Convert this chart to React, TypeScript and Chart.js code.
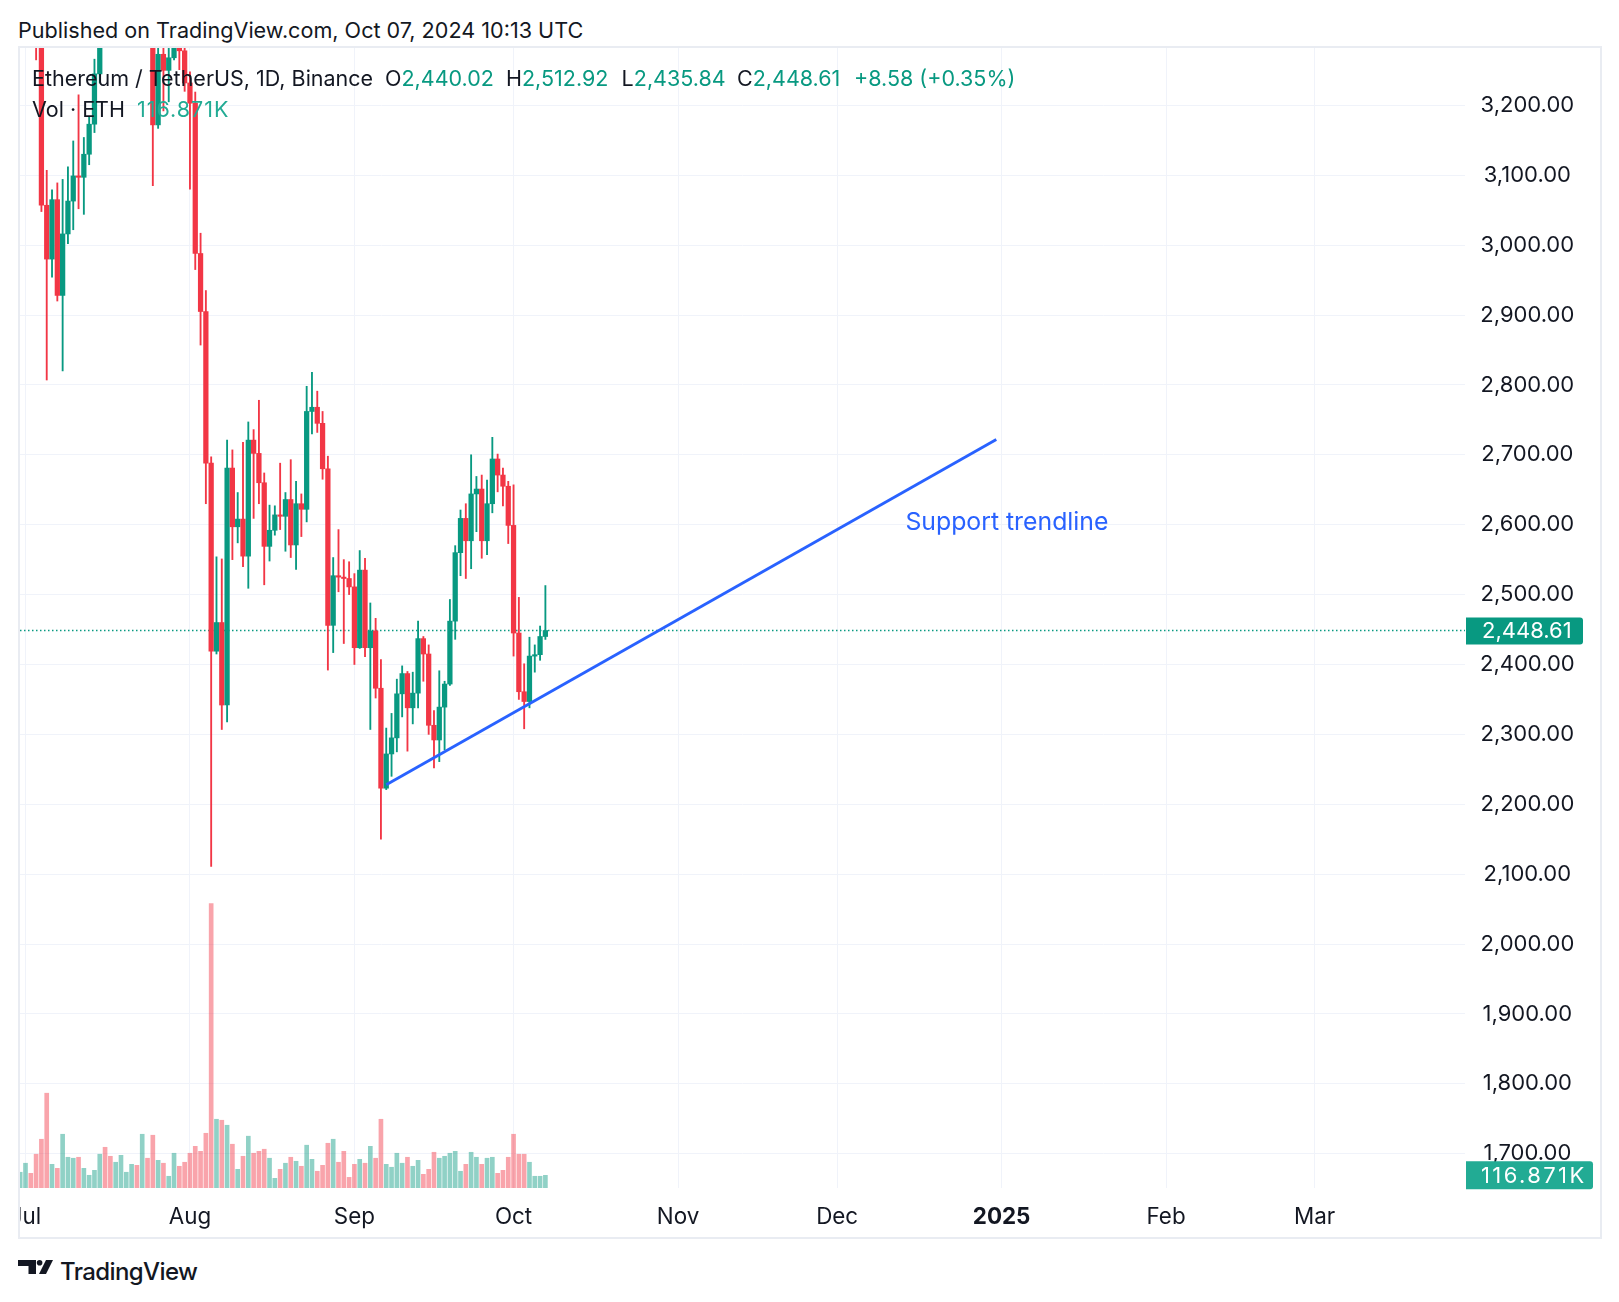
import React, { useEffect, useRef } from "react";
import { Chart, registerables } from "chart.js";

Chart.register(...registerables);

// ---------- DATA ----------
const dates = [
  "2024-06-30",
  "2024-07-01","2024-07-02","2024-07-03","2024-07-04","2024-07-05","2024-07-06","2024-07-07","2024-07-08","2024-07-09","2024-07-10",
  "2024-07-11","2024-07-12","2024-07-13","2024-07-14","2024-07-15","2024-07-16","2024-07-17","2024-07-18","2024-07-19","2024-07-20",
  "2024-07-21","2024-07-22","2024-07-23","2024-07-24","2024-07-25","2024-07-26","2024-07-27","2024-07-28","2024-07-29","2024-07-30","2024-07-31",
  "2024-08-01","2024-08-02","2024-08-03","2024-08-04","2024-08-05","2024-08-06","2024-08-07","2024-08-08","2024-08-09","2024-08-10",
  "2024-08-11","2024-08-12","2024-08-13","2024-08-14","2024-08-15","2024-08-16","2024-08-17","2024-08-18","2024-08-19","2024-08-20",
  "2024-08-21","2024-08-22","2024-08-23","2024-08-24","2024-08-25","2024-08-26","2024-08-27","2024-08-28","2024-08-29","2024-08-30","2024-08-31",
  "2024-09-01","2024-09-02","2024-09-03","2024-09-04","2024-09-05","2024-09-06","2024-09-07","2024-09-08","2024-09-09","2024-09-10",
  "2024-09-11","2024-09-12","2024-09-13","2024-09-14","2024-09-15","2024-09-16","2024-09-17","2024-09-18","2024-09-19","2024-09-20",
  "2024-09-21","2024-09-22","2024-09-23","2024-09-24","2024-09-25","2024-09-26","2024-09-27","2024-09-28","2024-09-29","2024-09-30",
  "2024-10-01","2024-10-02","2024-10-03","2024-10-04","2024-10-05","2024-10-06","2024-10-07",
];

const openPrices = [
  3378,
  3433,3438,3421,3296,3057,2980,3065,2928,3016,3063,3099,3097,3130,3173,3245,3485,3443,3388,3425,3505,3517,3535,3441,3482,3338,3172,3273,3250,3268,3318,3278,
  3232,3203,2988,2905,2688,2419,2460,2342,2681,2597,2608,2555,2721,2702,2660,2569,2592,2614,2612,2636,2571,2630,2622,2762,2768,2745,2680,2456,2527,2525,2523,
  2511,2424,2535,2424,2448,2366,2223,2272,2295,2358,2387,2338,2359,2437,2415,2313,2292,2339,2372,2462,2560,2609,2577,2644,2651,2577,2630,2694,2671,2655,
  2599,2445,2361,2347,2412,2414,2440.02,
];

const highPrices = [
  3456,
  3524,3464,3435,3310,3107,3079,3089,3094,3112,3149,3215,3154,3184,3266,3498,3499,3517,3488,3541,3538,3546,3563,3541,3487,3342,3284,3328,3290,3396,3365,3350,
  3248,3219,3017,2935,2697,2554,2551,2721,2707,2646,2718,2747,2736,2778,2674,2628,2627,2688,2646,2693,2662,2644,2798,2818,2791,2762,2698,2553,2593,2550,2547,
  2530,2563,2552,2488,2466,2407,2309,2330,2379,2398,2390,2389,2462,2440,2428,2334,2391,2376,2493,2570,2621,2630,2700,2669,2671,2664,2725,2701,2681,2662,
  2657,2496,2401,2439,2428,2455,2512.92,
];

const lowPrices = [
  3364,
  3422,3400,3265,3048,2807,2954,2920,2820,3002,3022,3052,3044,3115,3161,3232,3350,3379,3378,3372,3483,3420,3426,3423,3306,3085,3167,3192,3205,3265,3251,3220,
  3080,2965,2857,2630,2111,2415,2307,2318,2550,2574,2540,2509,2609,2630,2514,2548,2585,2593,2562,2553,2536,2583,2604,2730,2732,2665,2392,2417,2504,2430,2500,
  2400,2423,2411,2307,2352,2150,2221,2240,2275,2325,2276,2315,2338,2376,2300,2252,2261,2278,2370,2436,2527,2523,2537,2590,2552,2557,2617,2647,2627,2573,
  2412,2350,2308,2338,2389,2406,2435.84,
];

const closePrices = [
  3433,
  3438,3421,3296,3057,2980,3065,2928,3016,3063,3099,3097,3130,3173,3245,3485,3443,3388,3425,3505,3517,3535,3441,3482,3338,3172,3273,3250,3268,3318,3278,3232,
  3203,2988,2905,2688,2419,2460,2342,2681,2597,2608,2555,2721,2702,2660,2569,2592,2614,2612,2636,2571,2630,2622,2762,2768,2745,2680,2456,2527,2525,2523,2511,
  2424,2535,2424,2448,2366,2223,2272,2295,2358,2387,2338,2359,2437,2415,2313,2292,2339,2372,2462,2560,2609,2577,2644,2651,2577,2630,2694,2671,2655,2599,
  2445,2361,2347,2412,2414,2440.02,2448.61,
];

// volume in thousands of ETH
const volumeK = [
  145,
  228,135,311,449,873,218,181,495,283,274,283,181,117,163,311,375,292,237,301,145,218,209,495,274,486,255,228,108,320,200,237,
  320,384,338,504,2620,633,624,578,403,172,292,477,320,338,357,274,89,172,228,283,246,200,394,264,154,209,412,449,237,338,98,
  218,264,228,384,274,633,218,191,320,228,283,200,255,126,172,329,274,292,320,338,154,218,329,283,218,274,283,135,163,283,
  495,311,311,237,108,108,116.871,
];

const monthTickDates = ["2024-07-01","2024-08-01","2024-09-01","2024-10-01","2024-11-01","2024-12-01","2025-01-01","2025-02-01","2025-03-01"];
const monthTickLabels = ["Jul","Aug","Sep","Oct","Nov","Dec","2025","Feb","Mar"];
const boldTickDate = "2025-01-01";

const trendDates = ["2024-09-07", "2024-12-31"];
const trendPrices = [2228, 2722];
const trendLabel = "Support trendline";
const trendLabelDate = "2025-01-02";
const trendLabelPrice = 2603;

const headerTitle = "Published on TradingView.com, Oct 07, 2024 10:13 UTC";
const symbolText = "Ethereum / TetherUS, 1D, Binance";
const changeText = "+8.58 (+0.35%)";
const volText = "Vol · ETH";

// ---------- VIEW ----------
const X_MIN = -1.037;
const X_MAX = 271.35;
const Y_MIN = 1651;
const Y_MAX = 3282;
const VOL_MAX = 10499;

const GREEN = "#089981";
const RED = "#f23645";
const FONT = "Inter";
const TEXT = "#131722";
const AXIS_FONT = 22;

const BASE = Date.UTC(2024, 6, 1);
const dayOf = (s: string) => (Date.parse(s + "T00:00:00Z") - BASE) / 86400000;
const formatPrice = (v: number) =>
  v.toLocaleString("en-US", { minimumFractionDigits: 2, maximumFractionDigits: 2 });

function roundRect(ctx: CanvasRenderingContext2D, x: number, y: number, w: number, h: number, r: number) {
  ctx.beginPath();
  ctx.moveTo(x, y);
  ctx.lineTo(x + w - r, y);
  ctx.quadraticCurveTo(x + w, y, x + w, y + r);
  ctx.lineTo(x + w, y + h - r);
  ctx.quadraticCurveTo(x + w, y + h, x + w - r, y + h);
  ctx.lineTo(x, y + h);
  ctx.closePath();
}

const noPad = (s: any) => {
  s.paddingLeft = 0;
  s.paddingRight = 0;
  s.paddingTop = 0;
  s.paddingBottom = 0;
};

export default function App() {
  const canvasRef = useRef<HTMLCanvasElement | null>(null);

  useEffect(() => {
    const canvas = canvasRef.current;
    if (!canvas) return;
    const days = dates.map(dayOf);
    const up = closePrices.map((c, i) => c >= openPrices[i]);
    const candleColors = up.map((u) => (u ? GREEN : RED));
    const volColors = up.map((u) => (u ? "rgba(8,153,129,0.45)" : "rgba(242,54,69,0.45)"));
    const last = closePrices.length - 1;
    const tickDays = monthTickDates.map(dayOf);
    const boldDay = dayOf(boldTickDate);

    const overlay = {
      id: "overlay",
      afterDraw(chart: any) {
        const { ctx, chartArea } = chart;
        const ys = chart.scales.y;
        const vs = chart.scales.yVol;
        const xs = chart.scales.x;
        ctx.save();
        ctx.font = `24.8px ${FONT}`;
        ctx.fillStyle = "#2962ff";
        ctx.textAlign = "center";
        ctx.textBaseline = "middle";
        ctx.fillText(trendLabel, xs.getPixelForValue(dayOf(trendLabelDate)), ys.getPixelForValue(trendLabelPrice));

        ctx.font = `${AXIS_FONT}px ${FONT}`;
        const widest = ctx.measureText(formatPrice(3200)).width;
        const textCenter = ys.left + 15 + widest / 2;
        const py = ys.getPixelForValue(closePrices[last]);
        ctx.fillStyle = GREEN;
        roundRect(ctx, chartArea.right + 1, py - 13, 117, 27, 3);
        ctx.fill();
        ctx.fillStyle = "#ffffff";
        ctx.textAlign = "center";
        ctx.fillText(formatPrice(closePrices[last]), textCenter, py + 1);

        const vy = vs.getPixelForValue(volumeK[last]);
        ctx.fillStyle = "#22ab94";
        roundRect(ctx, chartArea.right + 1, vy - 14, 127, 28, 3);
        ctx.fill();
        ctx.fillStyle = "#ffffff";
        ctx.textAlign = "left";
        try {
          (ctx as any).letterSpacing = "2.4px";
        } catch (e) {}
        ctx.fillText(volumeK[last].toFixed(3) + "K", ys.left + 16, vy + 1);
        ctx.restore();
      },
    };

    const chart = new Chart(canvas, {
      type: "bar",
      data: {
        datasets: [
          {
            type: "line",
            label: "trend",
            data: trendDates.map((d, i) => ({ x: dayOf(d), y: trendPrices[i] })),
            borderColor: "#2962ff",
            borderWidth: 2.9,
            pointRadius: 0,
            yAxisID: "y",
            order: 0,
          } as any,
          {
            type: "bar",
            label: "body",
            data: days.map((x, i) => ({ x, y: [openPrices[i], closePrices[i]] })),
            backgroundColor: candleColors,
            barThickness: 4.6,
            grouped: false,
            minBarLength: 1,
            yAxisID: "y",
            order: 1,
          } as any,
          {
            type: "bar",
            label: "wick",
            data: days.map((x, i) => ({ x, y: [lowPrices[i], highPrices[i]] })),
            backgroundColor: candleColors,
            barThickness: 1.2,
            grouped: false,
            yAxisID: "y",
            order: 2,
          } as any,
          {
            type: "line",
            label: "last",
            data: [
              { x: X_MIN, y: closePrices[last] },
              { x: X_MAX, y: closePrices[last] },
            ],
            borderColor: GREEN,
            borderWidth: 1.3,
            borderDash: [1.5, 2.5],
            pointRadius: 0,
            yAxisID: "y",
            order: 3,
          } as any,
          {
            type: "bar",
            label: "vol",
            data: days.map((x, i) => ({ x, y: volumeK[i] })),
            backgroundColor: volColors,
            barThickness: 4,
            grouped: false,
            yAxisID: "yVol",
            order: 4,
          } as any,
        ],
      },
      plugins: [overlay],
      options: {
        responsive: false,
        animation: false,
        devicePixelRatio: 1,
        events: [],
        layout: { padding: 0, autoPadding: false } as any,
        plugins: { legend: { display: false }, tooltip: { enabled: false } },
        scales: {
          x: {
            type: "linear",
            position: "bottom",
            min: X_MIN,
            max: X_MAX,
            offset: false,
            grid: { color: "#f0f3fa", lineWidth: 1, drawTicks: false, offset: false } as any,
            border: { display: false },
            afterBuildTicks: (s: any) => {
              s.ticks = tickDays.map((v) => ({ value: v }));
            },
            afterFit: (s: any) => {
              s.height = 49;
              noPad(s);
            },
            ticks: {
              autoSkip: false,
              maxRotation: 0,
              padding: 16,
              color: TEXT,
              font: (c: any) => ({
                family: FONT,
                size: 22.4,
                weight: c.tick && c.tick.value === boldDay ? "bold" : "normal",
              }),
              callback: (v: any) => {
                const k = tickDays.indexOf(Number(v));
                return k >= 0 ? monthTickLabels[k] : "";
              },
            } as any,
          },
          y: {
            type: "linear",
            position: "right",
            min: Y_MIN,
            max: Y_MAX,
            grid: { color: "#f0f3fa", lineWidth: 1, drawTicks: false },
            border: { display: false },
            afterFit: (s: any) => {
              s.width = 135;
              noPad(s);
            },
            ticks: {
              stepSize: 100,
              includeBounds: false,
              padding: 15,
              crossAlign: "center",
              color: TEXT,
              font: { family: FONT, size: AXIS_FONT },
              callback: (v: any) => formatPrice(Number(v)),
            } as any,
          },
          yVol: {
            type: "linear",
            display: false,
            min: 0,
            max: VOL_MAX,
            afterFit: (s: any) => noPad(s),
          } as any,
        },
      } as any,
    });
    return () => chart.destroy();
  }, []);

  const last = closePrices.length - 1;
  const line = (cy: number, h = 30) => ({
    position: "absolute" as const,
    top: cy - h / 2,
    height: h,
    lineHeight: `${h}px`,
    whiteSpace: "nowrap" as const,
    fontFamily: FONT,
  });
  const LEG = 21.5;

  return (
    <div style={{ position: "absolute", left: 0, top: 0, width: 1619, height: 1302, background: "#fff", overflow: "hidden", color: TEXT, fontFamily: FONT }}>
      <div style={{ ...line(29.5), left: 18, fontSize: 21.6 }}>{headerTitle}</div>
      <div
        style={{
          position: "absolute",
          left: 18,
          top: 46,
          width: 1580,
          height: 1189,
          border: "2px solid #e9ecf2",
        }}
      >
        <canvas ref={canvasRef} width={1580} height={1189} style={{ display: "block", width: 1580, height: 1189 }} />
      </div>
      <div style={{ ...line(78), left: 32, fontSize: LEG }}>{symbolText}</div>
      <div style={{ ...line(78), left: 385, fontSize: LEG }}>O<span style={{ color: GREEN }}>{formatPrice(openPrices[last])}</span></div>
      <div style={{ ...line(78), left: 506, fontSize: LEG }}>H<span style={{ color: GREEN }}>{formatPrice(highPrices[last])}</span></div>
      <div style={{ ...line(78), left: 621.6, fontSize: LEG }}>L<span style={{ color: GREEN }}>{formatPrice(lowPrices[last])}</span></div>
      <div style={{ ...line(78), left: 737, fontSize: LEG }}>C<span style={{ color: GREEN }}>{formatPrice(closePrices[last])}</span></div>
      <div style={{ ...line(78), left: 854, fontSize: LEG, color: GREEN }}>{changeText}</div>
      <div style={{ ...line(109), left: 32, fontSize: LEG }}>{volText}</div>
      <div style={{ ...line(109), left: 137, fontSize: LEG, color: "#22ab94", letterSpacing: 1 }}>{volumeK[last].toFixed(3) + "K"}</div>
      <svg style={{ position: "absolute", left: 18, top: 1260 }} width={35} height={14} viewBox="0 0 35 14">
        <path d="M0 0 H18 V14 H10.5 V6 H0 Z" fill={TEXT} />
        <circle cx={21.6} cy={2.8} r={2.8} fill={TEXT} />
        <path d="M21 14 L28 0 H35 L28 14 Z" fill={TEXT} />
      </svg>
      <div style={{ ...line(1272), left: 60, fontSize: 24, fontWeight: 500, letterSpacing: -0.6 }}>TradingView</div>
    </div>
  );
}
